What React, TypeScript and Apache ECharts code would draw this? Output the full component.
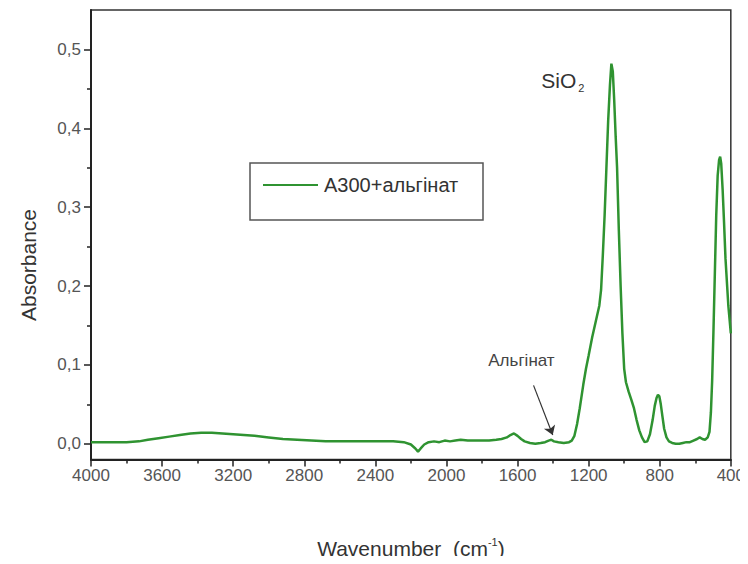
import React, { useEffect, useRef } from 'react';
import * as echarts from 'echarts';

const seriesName = 'A300+альгінат';

const wavenumbers = [
  4000, 3900, 3800, 3730, 3680, 3620, 3560, 3500, 3440, 3380, 3320, 3260, 3200, 3140, 3080, 3000,
  2920, 2840, 2760, 2680, 2600, 2500, 2400, 2300, 2240, 2200, 2175, 2160, 2145, 2125, 2100, 2070,
  2040, 2010, 1980, 1950, 1920, 1880, 1840, 1800, 1760, 1720, 1690, 1660, 1640, 1620, 1600, 1580,
  1560, 1530, 1500, 1470, 1445, 1425, 1410, 1395, 1370, 1340, 1310, 1295, 1280, 1265, 1250, 1230,
  1215, 1200, 1180, 1160, 1140, 1130, 1120, 1110, 1100, 1090, 1080, 1072, 1064, 1056, 1048, 1040, 1030,
  1020, 1010, 1000, 990, 975, 960, 945, 930, 915, 900, 885, 870, 855, 840, 828, 818,
  810, 802, 794, 785, 775, 762, 748, 730, 710, 690, 670, 650, 630, 610, 590, 575,
  560, 545, 530, 520, 512, 505, 498, 490, 482, 474, 466, 460, 454, 446, 438, 430,
  422, 414, 406, 400,
];

const absorbance = [
  0.002, 0.002, 0.002, 0.003, 0.005, 0.007, 0.009, 0.011, 0.013, 0.014, 0.014, 0.013, 0.012, 0.011, 0.010, 0.008,
  0.006, 0.005, 0.004, 0.003, 0.003, 0.003, 0.003, 0.003, 0.002, -0.001, -0.006, -0.010, -0.006, -0.001, 0.002, 0.003,
  0.002, 0.004, 0.003, 0.004, 0.005, 0.004, 0.004, 0.004, 0.004, 0.005, 0.006, 0.008, 0.011, 0.013, 0.010, 0.006,
  0.003, 0.001, 0.000, 0.001, 0.002, 0.004, 0.005, 0.003, 0.002, 0.001, 0.002, 0.004, 0.010, 0.025, 0.045, 0.075,
  0.095, 0.112, 0.135, 0.155, 0.175, 0.195, 0.24, 0.29, 0.35, 0.41, 0.455, 0.482, 0.472, 0.435, 0.39, 0.35, 0.27,
  0.2, 0.14, 0.095, 0.078, 0.066, 0.056, 0.045, 0.03, 0.017, 0.008, 0.002, 0.003, 0.012, 0.03, 0.048, 0.058,
  0.062, 0.06, 0.05, 0.035, 0.019, 0.008, 0.003, 0.001, 0.0, 0.0, 0.001, 0.002, 0.002, 0.004, 0.006, 0.008,
  0.006, 0.005, 0.008, 0.015, 0.04, 0.08, 0.14, 0.215, 0.29, 0.34, 0.36, 0.364, 0.355, 0.322, 0.28, 0.235,
  0.205, 0.175, 0.155, 0.14,
];

const xMin = 400;
const xMax = 4000;
const xInterval = 400;
const yMin = -0.02;
const yMax = 0.55;
const yMajorTicks = [0, 0.1, 0.2, 0.3, 0.4, 0.5];
const yMinorTicks = [0.05, 0.15, 0.25, 0.35, 0.45];

const sio2Label = { wn: 1345, value: 0.461 };
const alginateLabel = { wn: 1578, value: 0.106 };
const alginateArrow = { from: [1510, 0.074], to: [1402, 0.011] };

const FONT = '"Liberation Sans", Arial, sans-serif';
const GREEN = '#2f9331';

export default function App() {
  const ref = useRef<HTMLDivElement>(null);

  useEffect(() => {
    if (!ref.current) return;
    const chart = echarts.init(ref.current, undefined, { renderer: 'svg' });
    const data = wavenumbers.map((w, i) => [w, absorbance[i]]);
    const fmt = (v: number) => v.toFixed(1).replace('.', ',');

    chart.setOption({
      animation: false,
      backgroundColor: '#ffffff',
      textStyle: { fontFamily: FONT },
      grid: {
        left: 91,
        right: 15,
        top: 10,
        bottom: 102,
        show: true,
        borderColor: '#333',
        borderWidth: 1.5,
        containLabel: false,
      },
      legend: {
        show: true,
        left: 258,
        top: 170,
        icon: 'rect',
        itemWidth: 55,
        itemHeight: 2,
        itemGap: 10,
        textStyle: { fontFamily: FONT, fontSize: 20, color: '#333', padding: [0, 0, 0, 1] },
        data: [seriesName],
      },
      xAxis: {
        type: 'value',
        min: xMin,
        max: xMax,
        interval: xInterval,
        inverse: true,
        name: '{a|Wavenumber  (cm}{s|-1}{a|)}',
        nameLocation: 'middle',
        nameGap: 77,
        nameTextStyle: {
          rich: {
            a: { fontFamily: FONT, fontSize: 21, color: '#333', lineHeight: 24 },
            s: { fontFamily: FONT, fontSize: 11, color: '#333', verticalAlign: 'top', lineHeight: 24 },
          },
        },
        axisLine: { show: true, onZero: false, lineStyle: { color: '#222', width: 2 } },
        axisTick: { show: true, inside: false, length: 7, lineStyle: { color: '#222', width: 1.5 } },
        minorTick: { show: true, splitNumber: 2, length: 4, lineStyle: { color: '#222', width: 1.5 } },
        axisLabel: { fontFamily: FONT, fontSize: 17, color: '#555', margin: 7, formatter: (v: number) => String(v) },
        splitLine: { show: false },
        minorSplitLine: { show: false },
      },
      yAxis: [
        {
          type: 'value',
          min: yMin,
          max: yMax,
          position: 'left',
          axisLine: { show: true, onZero: false, lineStyle: { color: '#222', width: 2 } },
          axisTick: { show: true, inside: false, length: 7, customValues: yMajorTicks, lineStyle: { color: '#222', width: 1.5 } },
          axisLabel: { fontFamily: FONT, fontSize: 17, color: '#555', margin: 10, customValues: yMajorTicks, formatter: fmt },
          splitLine: { show: false },
        },
        {
          type: 'value',
          min: yMin,
          max: yMax,
          position: 'left',
          offset: 0,
          axisLine: { show: false },
          axisTick: { show: true, inside: false, length: 4, customValues: yMinorTicks, lineStyle: { color: '#222', width: 1.5 } },
          axisLabel: { show: false, customValues: yMinorTicks },
          splitLine: { show: false },
        },
      ],
      graphic: [
        {
          type: 'rect',
          shape: { x: 250, y: 163, width: 233, height: 57 },
          style: { fill: 'none', stroke: '#555', lineWidth: 1.5 },
          silent: true,
        },
        {
          type: 'text',
          x: 28,
          y: 265,
          rotation: Math.PI / 2,
          style: {
            text: 'Absorbance',
            fontFamily: FONT,
            fontSize: 21,
            fill: '#333',
            align: 'center',
            verticalAlign: 'middle',
          },
          silent: true,
        },
      ],
      series: [
        {
          name: seriesName,
          type: 'line',
          data,
          symbol: 'none',
          smooth: false,
          lineStyle: { color: GREEN, width: 2.5 },
          itemStyle: { color: GREEN },
          z: 3,
          markPoint: {
            silent: true,
            symbol: 'circle',
            symbolSize: 0,
            label: { show: true, position: 'inside' },
            data: [
              {
                coord: [sio2Label.wn, sio2Label.value],
                label: {
                  formatter: '{a|SiO}{s|2}',
                  rich: {
                    a: { fontFamily: FONT, fontSize: 21, color: '#333', lineHeight: 26 },
                    s: { fontFamily: FONT, fontSize: 11, color: '#333', verticalAlign: 'bottom', lineHeight: 26, padding: [0, 0, 0, 2] },
                  },
                },
              },
              {
                coord: [alginateLabel.wn, alginateLabel.value],
                label: { formatter: 'Альгінат', fontFamily: FONT, fontSize: 17, color: '#444' },
              },
            ],
          },
          markLine: {
            silent: true,
            symbol: ['none', 'arrow'],
            symbolSize: 9,
            label: { show: false },
            lineStyle: { color: '#333', width: 1.2, type: 'solid' },
            data: [[{ coord: alginateArrow.from }, { coord: alginateArrow.to }]],
          },
        },
      ],
    });

    return () => chart.dispose();
  }, []);

  return <div ref={ref} style={{ width: 748, height: 564, margin: -8 }} />;
}
